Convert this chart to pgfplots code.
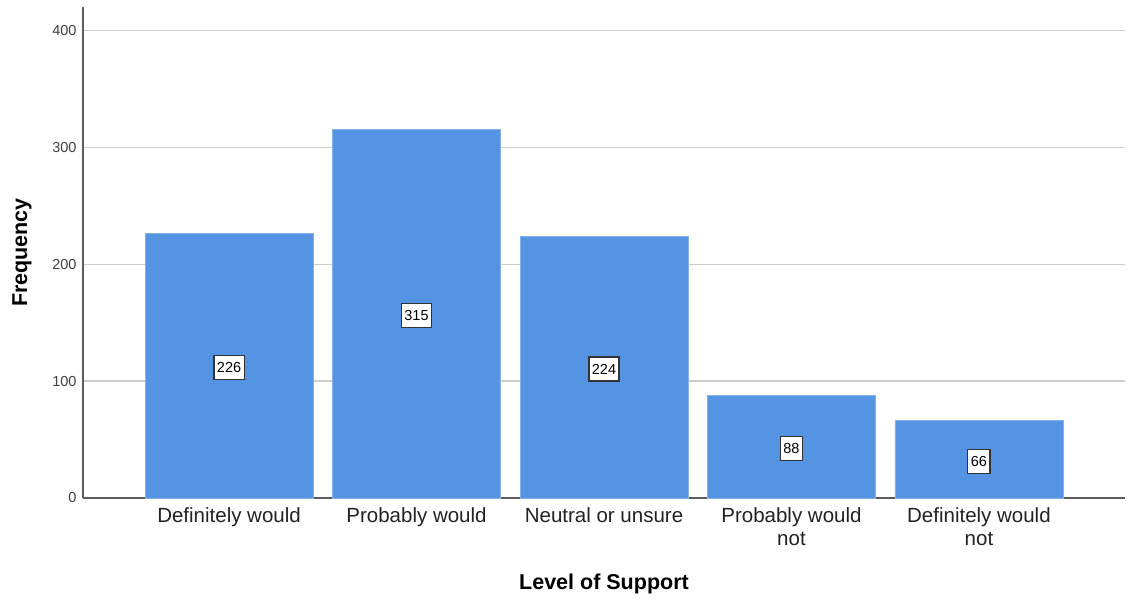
\documentclass[border=0pt]{standalone}
\usepackage{pgfplots}
\pgfplotsset{compat=1.18}
\usepackage{pgfplotstable}
\usepackage{fontspec}
\setmainfont{Liberation Sans}

\definecolor{barblue}{HTML}{5594E2}
\definecolor{baredge}{HTML}{86B2EC}
\definecolor{gridgray}{HTML}{CDCDCD}
\definecolor{axisgray}{HTML}{5C5C5C}
\definecolor{labelgray}{HTML}{222222}

% Frequency of each level of support
\pgfplotstableread{
x y
0 226
1 315
2 224
3 88
4 66
}\support

\begin{document}
\begin{tikzpicture}
\begin{axis}[
  scale only axis, width=1042pt, height=491pt,
  xmin=-0.779, xmax=4.779, ymin=0, ymax=420,
  axis x line*=bottom, axis y line*=left,
  axis line style={-, draw=axisgray, line width=1.2pt},
  ytick={0,100,...,400}, xtick={0,...,4},
  xticklabels={Definitely would, Probably would, Neutral or unsure, {Probably would\\not}, {Definitely would\\not}},
  major tick length=0pt,
  ymajorgrids, grid style={gridgray, line width=1.3pt},
  /pgf/number format/assume math mode=true,
  yticklabel style={font=\fontsize{14.5}{16}\selectfont, text=black!75, xshift=-3pt},
  xticklabel style={font=\fontsize{20.5}{23}\selectfont, align=center, text=labelgray, yshift=-6pt},
  xlabel={Level of Support}, ylabel={Frequency},
  label style={font=\bfseries\fontsize{21.5}{24}\selectfont, text=black},
  xlabel style={at={(axis description cs:0.5,-0.175)}, anchor=center},
  ylabel style={at={(axis description cs:-0.0585,0.5)}, anchor=center},
  clip=false,
]
\addplot[ybar, bar width=0.896, fill=barblue, draw=baredge, line width=0.8pt]
  table[x=x, y=y] {\support};
% value boxes at half the bar height
\addplot[draw=none, mark=none, nodes near coords, point meta=explicit,
  every node near coord/.append style={anchor=center, yshift=-2pt, draw=black!80, fill=white,
    line width=1.2pt, font=\fontsize{14.5}{16}\selectfont, text=black,
    inner xsep=3pt, minimum height=24pt}]
  table[x=x, y expr=\thisrow{y}/2, meta=y] {\support};
\end{axis}
\pgfresetboundingbox
\useasboundingbox ([shift={(-83pt,-103pt)}]current axis.south west) rectangle ([shift={(3pt,7pt)}]current axis.north east);
\end{tikzpicture}
\end{document}
